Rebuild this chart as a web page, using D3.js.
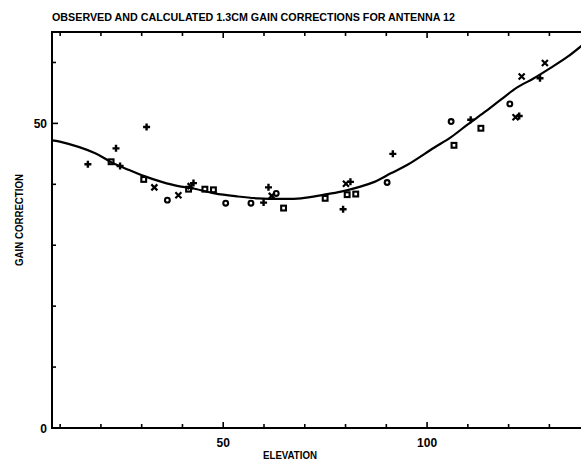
<!DOCTYPE html>
<html>
<head>
<meta charset="utf-8">
<script src="https://cdn.jsdelivr.net/npm/d3@7"></script>
<style>
  html, body { margin: 0; padding: 0; background: #fff; }
  svg { display: block; }
  text { font-family: "Liberation Sans Narrow", "Arial Narrow", "Liberation Sans", Arial, sans-serif; font-weight: bold; fill: #000; }
</style>
</head>
<body>
<svg id="chart" width="581" height="461"></svg>
<script>
// Observed gain corrections, one pair of arrays per plotting symbol
const circleElev = [36.3, 50.6, 56.8, 63.0, 90.2, 105.9, 120.3];
const circleGain = [37.4, 36.9, 36.9, 38.5, 40.3, 50.3, 53.2];

const squareElev = [22.5, 30.5, 41.5, 45.5, 47.6, 64.8, 75.0, 80.4, 82.5, 106.6, 113.2];
const squareGain = [43.7, 40.8, 39.2, 39.2, 39.1, 36.1, 37.7, 38.3, 38.4, 46.4, 49.2];

const plusElev = [16.8, 23.7, 24.7, 31.2, 42.7, 59.9, 61.1, 79.4, 81.2, 91.6, 110.7, 122.6, 127.7];
const plusGain = [43.3, 45.9, 43.0, 49.4, 40.2, 37.0, 39.5, 35.9, 40.4, 45.0, 50.6, 51.2, 57.4];

const crossElev = [33.1, 39.0, 42.0, 61.9, 80.1, 121.7, 123.2, 128.9];
const crossGain = [39.5, 38.2, 39.7, 38.1, 40.1, 51.0, 57.7, 59.9];

// Calculated gain correction curve
const curveElev = [8, 9.9, 18.6, 22.6, 26.7, 30.8, 34.9, 39.0, 42.2, 47.9, 53.6, 58.5, 64.2, 69.1, 74.8, 78.9, 83.0, 87.1, 91.1, 95.2, 101.7, 105.8, 109.9, 114.0, 118.1, 122.1, 126.2, 130.3, 134.4, 138];
const curveGain = [47.2, 47.0, 45.1, 43.6, 42.4, 41.3, 40.4, 39.7, 39.4, 38.5, 38.0, 37.7, 37.6, 37.7, 38.3, 38.8, 39.5, 40.4, 41.8, 43.2, 46.0, 47.7, 49.8, 51.8, 53.9, 55.9, 57.4, 59.1, 60.9, 62.8];

// Axis ticks and labels
const xTicks = [10, 20, 30, 40, 50, 60, 70, 80, 90, 100, 110, 120, 130];
const xTickLabels = [50, 100];
const yTicks = [0, 10, 20, 30, 40, 50, 60];
const yTickLabels = [0, 50];

const titleText = "OBSERVED AND CALCULATED 1.3CM GAIN CORRECTIONS FOR ANTENNA 12";
const xTitle = "ELEVATION";
const yTitle = "GAIN CORRECTION";

const frameL = 52, frameR = 582, frameT = 32, frameB = 428;
const x = d3.scaleLinear().domain([8, 138]).range([frameL, frameR]);
const y = d3.scaleLinear().domain([0, 65]).range([frameB, frameT]);

const svg = d3.select("#chart");

// Frame
svg.append("rect")
  .attr("x", frameL).attr("y", frameT)
  .attr("width", frameR - frameL).attr("height", frameB - frameT)
  .attr("fill", "none").attr("stroke", "#000").attr("stroke-width", 2);

// Inward ticks on all sides
const tickLen = v => (xTickLabels.includes(v) ? 6 : 4);
svg.append("g").selectAll("line").data(xTicks).join("line")
  .attr("x1", d => x(d)).attr("x2", d => x(d))
  .attr("y1", frameB).attr("y2", d => frameB - tickLen(d))
  .attr("stroke", "#000").attr("stroke-width", 1.6);
svg.append("g").selectAll("line").data(xTicks).join("line")
  .attr("x1", d => x(d)).attr("x2", d => x(d))
  .attr("y1", frameT).attr("y2", d => frameT + tickLen(d))
  .attr("stroke", "#000").attr("stroke-width", 1.6);
svg.append("g").selectAll("line").data(yTicks).join("line")
  .attr("x1", frameL).attr("x2", d => frameL + (yTickLabels.includes(d) ? 6 : 4))
  .attr("y1", d => y(d)).attr("y2", d => y(d))
  .attr("stroke", "#000").attr("stroke-width", 1.6);

// Tick labels
svg.append("g").selectAll("text").data(xTickLabels).join("text")
  .attr("x", d => x(d)).attr("y", 447)
  .attr("text-anchor", "middle").attr("font-size", 12)
  .text(d => d);
svg.append("g").selectAll("text").data(yTickLabels).join("text")
  .attr("x", frameL - 5).attr("y", d => y(d) + 5)
  .attr("text-anchor", "end").attr("font-size", 12)
  .text(d => d);

// Titles
svg.append("text").attr("x", 52).attr("y", 21)
  .attr("font-size", 11).attr("textLength", 403).attr("lengthAdjust", "spacingAndGlyphs")
  .text(titleText);
svg.append("text").attr("x", 290).attr("y", 459)
  .attr("text-anchor", "middle").attr("font-size", 11)
  .attr("textLength", 54).attr("lengthAdjust", "spacingAndGlyphs")
  .text(xTitle);
svg.append("text")
  .attr("transform", "translate(23,220) rotate(-90)")
  .attr("text-anchor", "middle").attr("font-size", 11)
  .attr("textLength", 92).attr("lengthAdjust", "spacingAndGlyphs")
  .text(yTitle);

// Calculated curve
const plot = svg.append("g");
const curvePts = curveElev.map((e, i) => [e, curveGain[i]]);
plot.append("path")
  .datum(curvePts)
  .attr("fill", "none").attr("stroke", "#000").attr("stroke-width", 2.2)
  .attr("d", d3.line().x(d => x(d[0])).y(d => y(d[1])).curve(d3.curveCatmullRom));

// Observed points
const zip = (a, b) => a.map((v, i) => [v, b[i]]);
const mk = { stroke: "#000", "stroke-width": 2.1, fill: "none" };
function styled(sel) { Object.entries(mk).forEach(([k, v]) => sel.attr(k, v)); return sel; }

styled(plot.append("g").selectAll("circle").data(zip(circleElev, circleGain)).join("circle")
  .attr("cx", d => x(d[0])).attr("cy", d => y(d[1])).attr("r", 2.4));

styled(plot.append("g").selectAll("rect").data(zip(squareElev, squareGain)).join("rect")
  .attr("x", d => x(d[0]) - 2.4).attr("y", d => y(d[1]) - 2.4)
  .attr("width", 4.8).attr("height", 4.8));

styled(plot.append("g").selectAll("path").data(zip(plusElev, plusGain)).join("path")
  .attr("d", d => {
    const cx = x(d[0]), cy = y(d[1]), s = 3.5;
    return `M${cx - s},${cy}H${cx + s}M${cx},${cy - s}V${cy + s}`;
  })).attr("stroke-width", 2.4);

styled(plot.append("g").selectAll("path").data(zip(crossElev, crossGain)).join("path")
  .attr("d", d => {
    const cx = x(d[0]), cy = y(d[1]), s = 3;
    return `M${cx - s},${cy - s}L${cx + s},${cy + s}M${cx - s},${cy + s}L${cx + s},${cy - s}`;
  })).attr("stroke-width", 2.2);
</script>
</body>
</html>
